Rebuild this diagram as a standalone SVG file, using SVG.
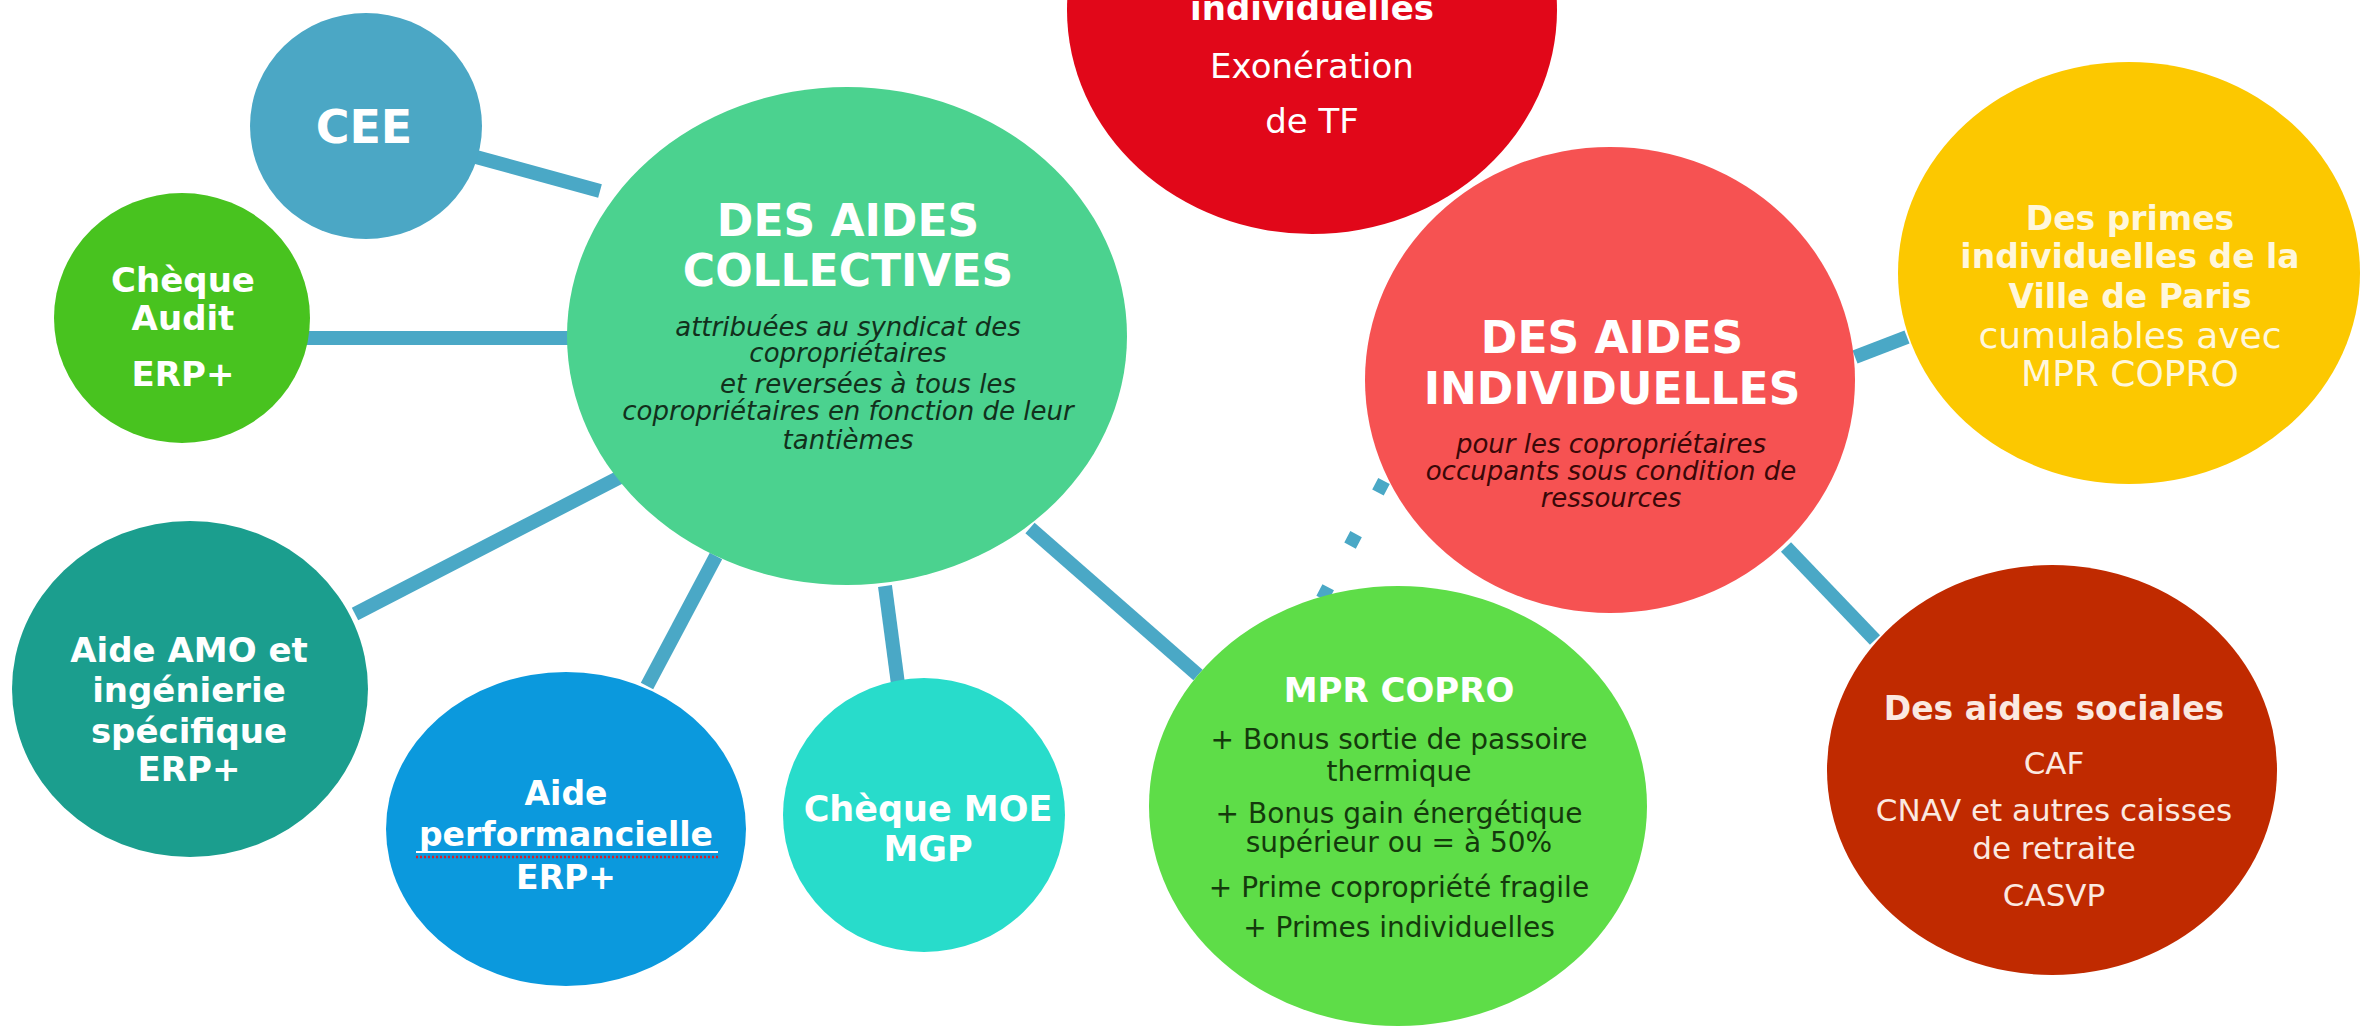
<svg xmlns="http://www.w3.org/2000/svg" width="2366" height="1032" viewBox="0 0 2366 1032">
  <style>
    .link { stroke: #4aa8c6; stroke-width: 14; fill: none; }
    .dots { stroke: #4aa8c6; stroke-width: 13; fill: none; stroke-dasharray: 13 47; }
    .squiggle { stroke: #d8202a; stroke-width: 2.5; fill: none; stroke-dasharray: 2 2; }
    text { font-family: "DejaVu Sans", "Liberation Sans", sans-serif; text-anchor: middle; }
    .b { font-weight: bold; fill: #ffffff; }
    .r { fill: #ffffff; }
    .head { font-weight: bold; font-size: 44px; fill: #ffffff; }
    .lbl { font-weight: bold; font-size: 34px; fill: #ffffff; }
    .note { font-style: italic; font-size: 26px; }
  </style>
  <rect width="2366" height="1032" fill="#ffffff"/>

  <!-- connectors, drawn beneath the nodes -->
  <g id="connectors">
    <line class="link" x1="476" y1="157" x2="600" y2="191"/>
    <line class="link" x1="305" y1="338" x2="572" y2="338"/>
    <line class="link" x1="355" y1="614" x2="624" y2="475"/>
    <line class="link" x1="647" y1="686" x2="716" y2="556"/>
    <line class="link" x1="885" y1="586" x2="898" y2="684"/>
    <line class="link" x1="1030" y1="528" x2="1198" y2="675"/>
    <line class="link" x1="1855" y1="357" x2="1907" y2="337"/>
    <line class="link" x1="1786" y1="547" x2="1875" y2="640"/>
    <line class="dots" x1="1384" y1="481" x2="1322" y2="599"/>
  </g>

  <g id="node-cee">
    <ellipse cx="366" cy="126" rx="116" ry="113" fill="#4ba7c5"/>
    <text class="b" x="364" y="143" font-size="46">CEE</text>
  </g>

  <g id="node-cheque-audit">
    <ellipse cx="182" cy="318" rx="128" ry="125" fill="#48c31f"/>
    <text class="lbl" x="183" y="292">Chèque</text>
    <text class="lbl" x="183" y="330">Audit</text>
    <text class="lbl" x="183" y="386">ERP+</text>
  </g>

  <g id="node-aides-collectives">
    <ellipse cx="847" cy="336" rx="280" ry="249" fill="#4bd28f"/>
    <text class="head" x="848" y="236">DES AIDES</text>
    <text class="head" x="848" y="286">COLLECTIVES</text>
    <g class="note" fill="#12301c">
      <text x="848" y="336">attribuées au syndicat des</text>
      <text x="848" y="362">copropriétaires</text>
      <text x="868" y="393">et reversées à tous les</text>
      <text x="848" y="420">copropriétaires en fonction de leur</text>
      <text x="848" y="449">tantièmes</text>
    </g>
  </g>

  <g id="node-aide-amo">
    <ellipse cx="190" cy="689" rx="178" ry="168" fill="#1b9e8e"/>
    <text class="lbl" x="189" y="662">Aide AMO et</text>
    <text class="lbl" x="189" y="702">ingénierie</text>
    <text class="lbl" x="189" y="743">spécifique</text>
    <text class="lbl" x="189" y="781">ERP+</text>
  </g>

  <g id="node-aide-performancielle">
    <ellipse cx="566" cy="829" rx="180" ry="157" fill="#0b99dd"/>
    <text class="b" x="566" y="805" font-size="33">Aide</text>
    <text class="b" x="566" y="846" font-size="33">performancielle</text>
    <line x1="416" y1="852" x2="718" y2="852" stroke="#ffffff" stroke-width="2"/>
    <line class="squiggle" x1="416" y1="857" x2="718" y2="857"/>
    <text class="b" x="566" y="889" font-size="33">ERP+</text>
  </g>

  <g id="node-cheque-moe">
    <ellipse cx="924" cy="815" rx="141" ry="137" fill="#28dccb"/>
    <text class="b" x="928" y="821" font-size="35">Chèque MOE</text>
    <text class="b" x="928" y="861" font-size="35">MGP</text>
  </g>

  <g id="node-mpr-copro">
    <ellipse cx="1398" cy="806" rx="249" ry="220" fill="#5edd48"/>
    <text class="lbl" x="1399" y="702">MPR COPRO</text>
    <g font-size="28" fill="#143a0c">
      <text x="1399" y="749">+ Bonus sortie de passoire</text>
      <text x="1399" y="781">thermique</text>
      <text x="1399" y="823">+ Bonus gain énergétique</text>
      <text x="1399" y="852">supérieur ou = à 50%</text>
      <text x="1399" y="897">+ Prime copropriété fragile</text>
      <text x="1399" y="937">+ Primes individuelles</text>
    </g>
  </g>

  <g id="node-exoneration-tf">
    <ellipse cx="1312" cy="10" rx="245" ry="224" fill="#e10719"/>
    <text class="b" x="1312" y="20" font-size="34">individuelles</text>
    <text class="r" x="1312" y="78" font-size="34">Exonération</text>
    <text class="r" x="1312" y="133" font-size="34">de TF</text>
  </g>

  <g id="node-aides-individuelles">
    <ellipse cx="1610" cy="380" rx="245" ry="233" fill="#f65252"/>
    <text class="head" x="1612" y="353">DES AIDES</text>
    <text class="head" x="1612" y="404">INDIVIDUELLES</text>
    <g class="note" fill="#3a0808">
      <text x="1611" y="453">pour les copropriétaires</text>
      <text x="1611" y="480">occupants sous condition de</text>
      <text x="1611" y="507">ressources</text>
    </g>
  </g>

  <g id="node-primes-paris">
    <ellipse cx="2129" cy="273" rx="231" ry="211" fill="#fcc800"/>
    <g fill="#fff7dc">
      <text x="2130" y="230" font-size="33" font-weight="bold">Des primes</text>
      <text x="2130" y="268" font-size="33" font-weight="bold">individuelles de la</text>
      <text x="2130" y="308" font-size="33" font-weight="bold">Ville de Paris</text>
      <text x="2130" y="348" font-size="36">cumulables avec</text>
      <text x="2130" y="386" font-size="36">MPR COPRO</text>
    </g>
  </g>

  <g id="node-aides-sociales">
    <ellipse cx="2052" cy="770" rx="225" ry="205" fill="#c02a00"/>
    <g fill="#fbe9e1">
      <text x="2054" y="720" font-size="33" font-weight="bold">Des aides sociales</text>
      <text x="2054" y="774" font-size="31">CAF</text>
      <text x="2054" y="821" font-size="31">CNAV et autres caisses</text>
      <text x="2054" y="859" font-size="31">de retraite</text>
      <text x="2054" y="906" font-size="31">CASVP</text>
    </g>
  </g>
</svg>
